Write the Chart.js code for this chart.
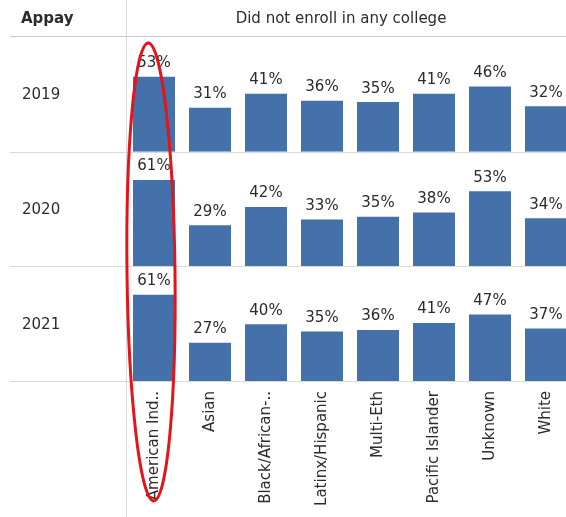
<!DOCTYPE html>
<html>
<head>
<meta charset="utf-8">
<script src="https://cdn.jsdelivr.net/npm/chart.js@4.4.1/dist/chart.umd.min.js"></script>
<style>
  html, body { margin: 0; padding: 0; background: #fff; overflow: hidden; }
  #wrap { width: 574px; height: 517px; position: relative; }
</style>
</head>
<body>
<div id="wrap"><canvas id="enrollChart"></canvas></div>
<script>
const categories = ['American Ind..', 'Asian', 'Black/African-..', 'Latinx/Hispanic', 'Multi-Eth', 'Pacific Islander', 'Unknown', 'White'];
const years = ['2019', '2020', '2021'];
const values2019 = [53, 31, 41, 36, 35, 41, 46, 32];
const values2020 = [61, 29, 42, 33, 35, 38, 53, 34];
const values2021 = [61, 27, 40, 35, 36, 41, 47, 37];
const rowValues = [values2019, values2020, values2021];

const barColor = '#4471a9';
const lineColor = '#d9d9d9';
const textColor = '#2b2b2b';
const fontFamily = "'DejaVu Sans', sans-serif";

Chart.defaults.font.family = fontFamily;

// one hidden y axis per year, stacked; Chart.js puts the last one on top,
// so they are declared from the bottom row up
const yScales = {};
years.slice().reverse().forEach(yr => {
  yScales['y' + yr] = {
    type: 'linear',
    position: 'left',
    stack: 'rows',
    stackWeight: 1,
    min: 0,
    max: 81,
    ticks: { display: false },
    grid: { display: false, drawTicks: false },
    border: { display: false }
  };
});

const labelPlugin = {
  id: 'barLabels',
  afterDatasetsDraw(chart) {
    const ctx = chart.ctx;
    ctx.save();
    ctx.font = '15px ' + fontFamily;
    ctx.fillStyle = textColor;
    ctx.textAlign = 'center';
    ctx.textBaseline = 'bottom';
    chart.data.datasets.forEach((ds, i) => {
      chart.getDatasetMeta(i).data.forEach((bar, j) => {
        ctx.fillText(ds.data[j] + '%', bar.x, bar.y - 6);
      });
    });
    ctx.restore();
  }
};

const framePlugin = {
  id: 'frame',
  afterDraw(chart) {
    const ctx = chart.ctx;
    const area = chart.chartArea;
    ctx.save();
    ctx.strokeStyle = lineColor;
    ctx.lineWidth = 1;
    // vertical divider
    ctx.beginPath();
    ctx.moveTo(area.left + 0.5, 0);
    ctx.lineTo(area.left + 0.5, chart.height);
    ctx.stroke();
    // header line
    ctx.strokeStyle = '#c8c8c8';
    ctx.beginPath();
    ctx.moveTo(10, area.top - 0.5);
    ctx.lineTo(chart.width, area.top - 0.5);
    ctx.stroke();
    ctx.strokeStyle = lineColor;
    // row separators + row labels
    ctx.fillStyle = textColor;
    ctx.textBaseline = 'middle';
    years.forEach(yr => {
      const s = chart.scales['y' + yr];
      ctx.beginPath();
      ctx.moveTo(10, Math.round(s.bottom) + 0.5);
      ctx.lineTo(chart.width, Math.round(s.bottom) + 0.5);
      ctx.stroke();
      ctx.font = '15px ' + fontFamily;
      ctx.textAlign = 'left';
      ctx.fillText(yr, 22, (s.top + s.bottom) / 2 + 1);
    });
    // header texts
    ctx.font = 'bold 15px ' + fontFamily;
    ctx.textAlign = 'left';
    ctx.fillText('Appay', 21, area.top / 2 + 1);
    ctx.font = '15px ' + fontFamily;
    ctx.textAlign = 'center';
    ctx.fillText('Did not enroll in any college', 341, area.top / 2 + 1);
    // red highlight ellipse around first column
    const x0 = chart.scales.x.getPixelForValue(0);
    ctx.strokeStyle = '#e3151a';
    ctx.lineWidth = 3;
    ctx.beginPath();
    ctx.ellipse(x0 - 3, 272, 24, 229, -0.012, 0, Math.PI * 2);
    ctx.stroke();
    ctx.restore();
  }
};

const ctx = document.getElementById('enrollChart').getContext('2d');
new Chart(ctx, {
  type: 'bar',
  data: {
    labels: categories,
    datasets: years.map((yr, i) => ({
      label: yr,
      data: rowValues[i],
      yAxisID: 'y' + yr,
      backgroundColor: barColor,
      grouped: false,
      barPercentage: 0.75,
      categoryPercentage: 1
    }))
  },
  options: {
    responsive: true,
    maintainAspectRatio: false,
    animation: false,
    layout: { padding: { left: 126, top: 37, right: 0, bottom: 0 } },
    plugins: {
      legend: { display: false },
      tooltip: { enabled: false }
    },
    scales: {
      x: {
        grid: { display: false },
        border: { display: false },
        ticks: {
          color: textColor,
          font: { size: 15 },
          minRotation: 90,
          maxRotation: 90,
          padding: 2,
          autoSkip: false
        },
        afterFit: s => { s.height = 136; }
      },
      ...yScales
    }
  },
  plugins: [labelPlugin, framePlugin]
});
</script>
</body>
</html>
